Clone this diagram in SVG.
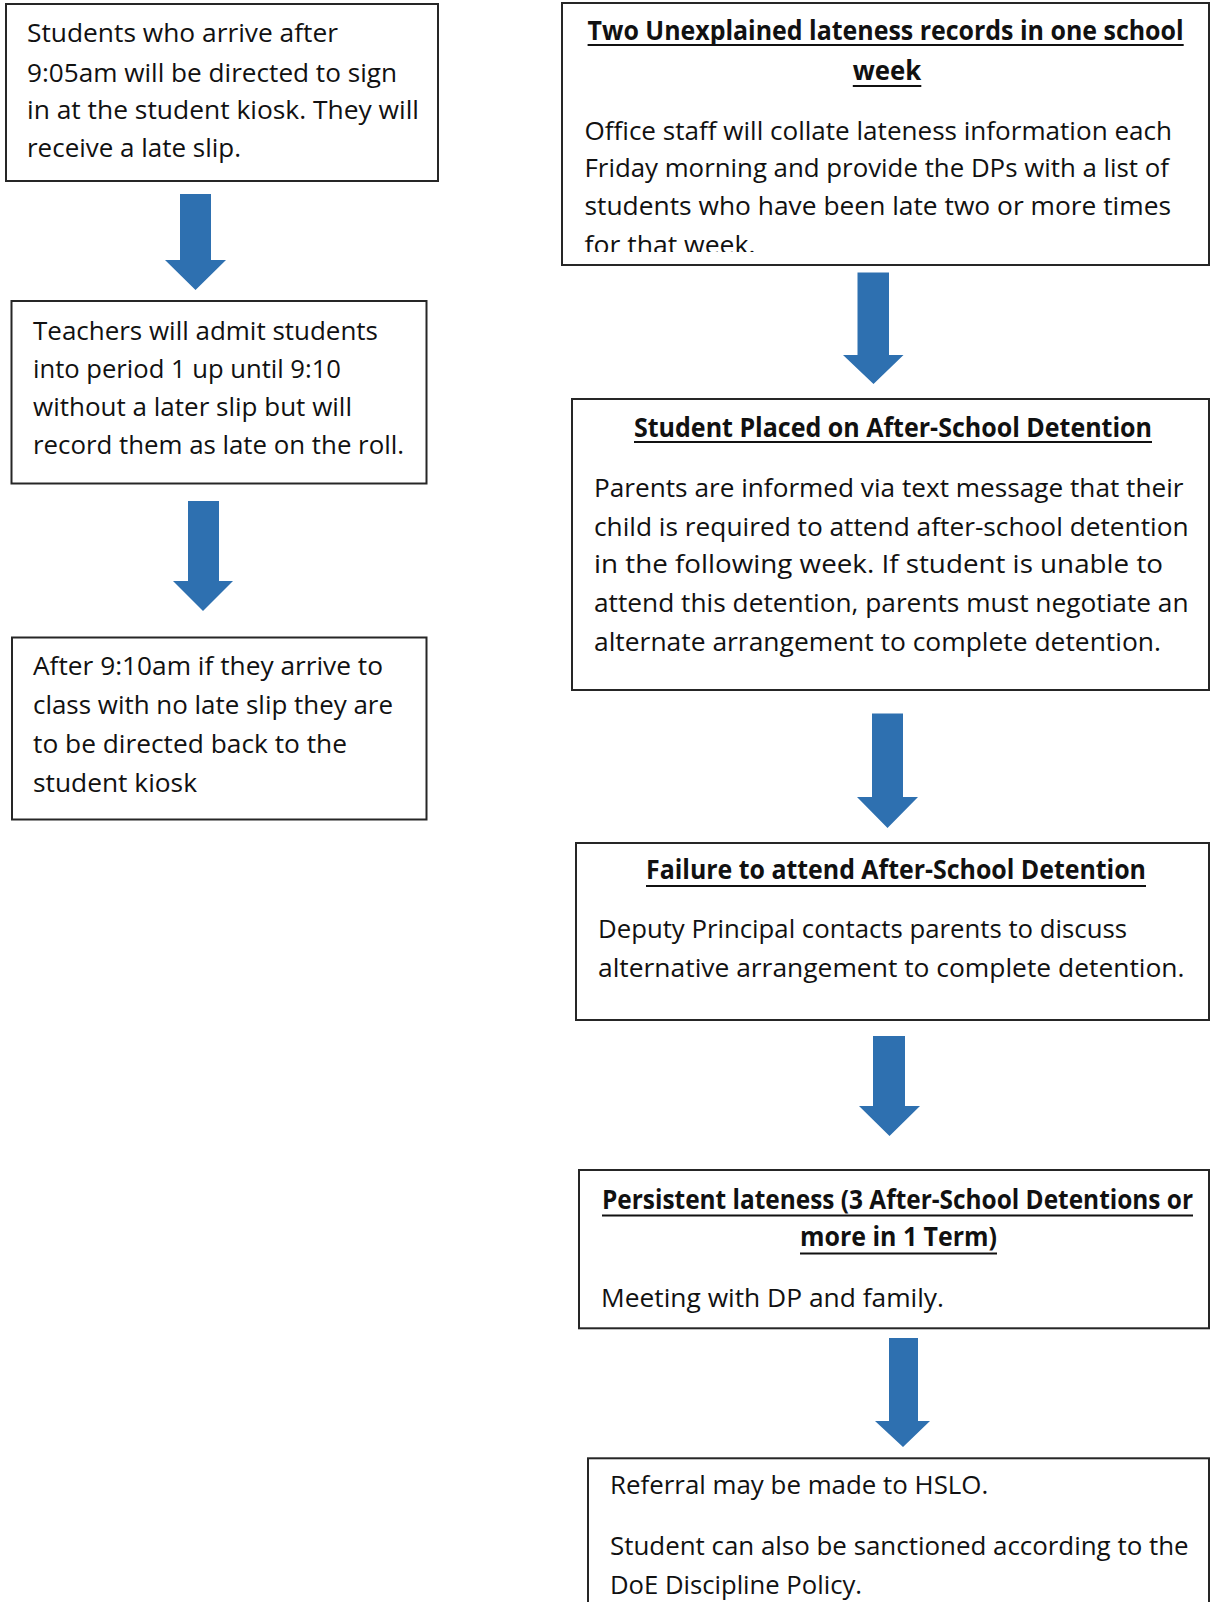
<svg xmlns="http://www.w3.org/2000/svg" width="1210" height="1602" viewBox="0 0 1210 1602">
<style>
.bg{fill:#fff}
.box{fill:#fff;stroke:#262626;stroke-width:2}
.t{font-family:"Open Sans","Noto Sans","Liberation Sans",sans-serif;font-size:26px;fill:#111}
.b{font-weight:bold}
.ul{stroke:#111;stroke-width:2}
.arrow{fill:#2E70B0}
</style>
<defs>
<clipPath id="clipA"><rect x="562" y="3" width="648" height="249"/></clipPath>
</defs>
<rect class="bg" x="0" y="0" width="1210" height="1602"/>

<g id="connectors">
<path class="arrow" d="M180,194 H211 V260 H226 L195.5,290 L165,260 H180 Z"/>
<path class="arrow" d="M188,501 H219 V581 H233 L203,611 L173,581 H188 Z"/>
<path class="arrow" d="M857.5,272.5 H889 V355 H903.5 L873.5,384 L843,355 H857.5 Z"/>
<path class="arrow" d="M872,713.5 H903 V797 H918 L887.5,828 L857,797 H872 Z"/>
<path class="arrow" d="M873,1036 H905 V1106 H920 L889.5,1136 L859,1106 H873 Z"/>
<path class="arrow" d="M889,1338 H918 V1421 H930 L903,1447 L875,1421 H889 Z"/>
</g>

<g id="node-kiosk">
<rect class="box" x="6" y="4" width="432" height="177"/>
<text class="t" x="27" y="42" textLength="311" lengthAdjust="spacingAndGlyphs">Students who arrive after</text>
<text class="t" x="27" y="81.5" textLength="370" lengthAdjust="spacingAndGlyphs">9:05am will be directed to sign</text>
<text class="t" x="27" y="119" textLength="392" lengthAdjust="spacingAndGlyphs">in at the student kiosk. They will</text>
<text class="t" x="27" y="156.5" textLength="214" lengthAdjust="spacingAndGlyphs">receive a late slip.</text>
</g>

<g id="node-teachers">
<rect class="box" x="11.5" y="301" width="415" height="182.5"/>
<text class="t" x="33" y="339.5" textLength="345" lengthAdjust="spacingAndGlyphs">Teachers will admit students</text>
<text class="t" x="33" y="377.5" textLength="308" lengthAdjust="spacingAndGlyphs">into period 1 up until 9:10</text>
<text class="t" x="33" y="415.5" textLength="319" lengthAdjust="spacingAndGlyphs">without a later slip but will</text>
<text class="t" x="33" y="454" textLength="371" lengthAdjust="spacingAndGlyphs">record them as late on the roll.</text>
</g>

<g id="node-after910">
<rect class="box" x="12" y="637.5" width="414.5" height="182"/>
<text class="t" x="33" y="674.5" textLength="350" lengthAdjust="spacingAndGlyphs">After 9:10am if they arrive to</text>
<text class="t" x="33" y="714" textLength="360" lengthAdjust="spacingAndGlyphs">class with no late slip they are</text>
<text class="t" x="33" y="753" textLength="314" lengthAdjust="spacingAndGlyphs">to be directed back to the</text>
<text class="t" x="33" y="791.5" textLength="164" lengthAdjust="spacingAndGlyphs">student kiosk</text>
</g>

<g id="node-two-records">
<rect class="box" x="562" y="3" width="647" height="262"/>
<text class="t b" x="587.6" y="39.5" textLength="596" lengthAdjust="spacingAndGlyphs">Two Unexplained lateness records in one school</text>
<line class="ul" x1="587.6" y1="45" x2="1183.7" y2="45"/>
<text class="t b" x="852.8" y="80" textLength="68.5" lengthAdjust="spacingAndGlyphs">week</text>
<line class="ul" x1="852.8" y1="86" x2="921.3" y2="86"/>
<g clip-path="url(#clipA)">
<text class="t" x="584.5" y="139.5" textLength="587.5" lengthAdjust="spacingAndGlyphs">Office staff will collate lateness information each</text>
<text class="t" x="584.5" y="177" textLength="584.5" lengthAdjust="spacingAndGlyphs">Friday morning and provide the DPs with a list of</text>
<text class="t" x="584.5" y="215" textLength="586.5" lengthAdjust="spacingAndGlyphs">students who have been late two or more times</text>
<text class="t" x="584.5" y="253.5" textLength="171" lengthAdjust="spacingAndGlyphs">for that week.</text>
</g>
</g>

<g id="node-detention">
<rect class="box" x="572" y="399" width="637" height="291"/>
<text class="t b" x="634" y="436.5" textLength="518" lengthAdjust="spacingAndGlyphs">Student Placed on After-School Detention</text>
<line class="ul" x1="634" y1="442" x2="1152" y2="442"/>
<text class="t" x="594" y="496.7" textLength="589.5" lengthAdjust="spacingAndGlyphs">Parents are informed via text message that their</text>
<text class="t" x="594" y="536" textLength="594.6" lengthAdjust="spacingAndGlyphs">child is required to attend after-school detention</text>
<text class="t" x="594" y="573.3" textLength="569" lengthAdjust="spacingAndGlyphs">in the following week. If student is unable to</text>
<text class="t" x="594" y="611.7" textLength="594.6" lengthAdjust="spacingAndGlyphs">attend this detention, parents must negotiate an</text>
<text class="t" x="594" y="650.7" textLength="567" lengthAdjust="spacingAndGlyphs">alternate arrangement to complete detention.</text>
</g>

<g id="node-failure">
<rect class="box" x="576" y="843" width="633" height="177"/>
<text class="t b" x="646" y="879.3" textLength="500" lengthAdjust="spacingAndGlyphs">Failure to attend After-School Detention</text>
<line class="ul" x1="646" y1="886" x2="1146" y2="886"/>
<text class="t" x="598" y="938.3" textLength="529" lengthAdjust="spacingAndGlyphs">Deputy Principal contacts parents to discuss</text>
<text class="t" x="598" y="976.7" textLength="586.5" lengthAdjust="spacingAndGlyphs">alternative arrangement to complete detention.</text>
</g>

<g id="node-persistent">
<rect class="box" x="579" y="1170" width="630" height="158.3"/>
<text class="t b" x="602" y="1209" textLength="591" lengthAdjust="spacingAndGlyphs">Persistent lateness (3 After-School Detentions or</text>
<line class="ul" x1="602" y1="1215.5" x2="1193" y2="1215.5"/>
<text class="t b" x="800" y="1246" textLength="197" lengthAdjust="spacingAndGlyphs">more in 1 Term)</text>
<line class="ul" x1="800" y1="1253.5" x2="997" y2="1253.5"/>
<text class="t" x="601" y="1306.7" textLength="343" lengthAdjust="spacingAndGlyphs">Meeting with DP and family.</text>
</g>

<g id="node-referral">
<rect class="box" x="588" y="1458.3" width="621" height="160"/>
<text class="t" x="610" y="1494" textLength="378.3" lengthAdjust="spacingAndGlyphs">Referral may be made to HSLO.</text>
<text class="t" x="610" y="1555" textLength="578.6" lengthAdjust="spacingAndGlyphs">Student can also be sanctioned according to the</text>
<text class="t" x="610" y="1594" textLength="252" lengthAdjust="spacingAndGlyphs">DoE Discipline Policy.</text>
</g>
</svg>
